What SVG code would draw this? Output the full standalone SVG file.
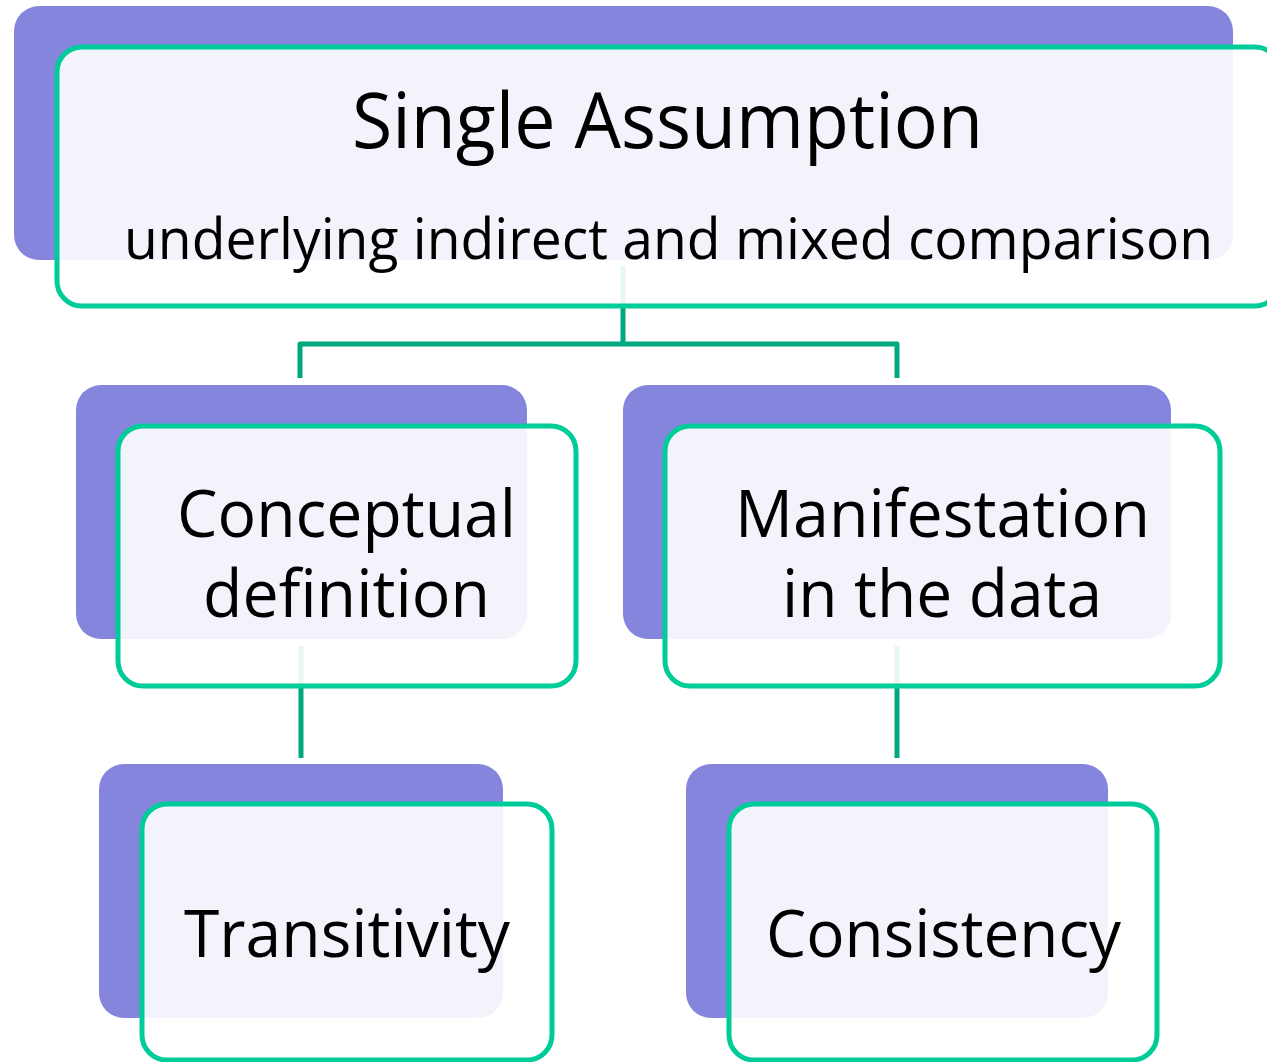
<svg xmlns="http://www.w3.org/2000/svg" width="1267" height="1062" viewBox="0 0 1267 1062">
<style>
.back{fill:#8585DD}
.front{fill:#FFFFFF;fill-opacity:0.9;stroke:#00CC99;stroke-width:5}
.conn{fill:none;stroke:#00A880;stroke-width:5;stroke-linejoin:round}
.t{font-family:"Open Sans","Noto Sans","Liberation Sans",sans-serif;fill:#000;text-anchor:middle}
.big{font-size:77px}
.sub{font-size:57px}
.mid{font-size:66px}
</style>
<rect width="1267" height="1062" fill="#FFFFFF"/>
<g id="backs">
<rect class="back" x="14" y="6" width="1219" height="254" rx="25"/>
<rect class="back" x="76" y="385" width="451" height="254" rx="25"/>
<rect class="back" x="623" y="385" width="548" height="254" rx="25"/>
<rect class="back" x="99" y="764" width="404" height="254" rx="25"/>
<rect class="back" x="686" y="764" width="422" height="254" rx="25"/>
</g>
<g id="connectors">
<path class="conn" d="M623,266 V344 H300 V378"/>
<path class="conn" d="M623,344 H897 V378"/>
<path class="conn" d="M301,646 V758"/>
<path class="conn" d="M897,646 V758"/>
</g>
<g id="node-single-assumption">
<rect class="front" x="57" y="47" width="1223" height="259" rx="25"/>
<text class="t big" x="667.5" y="148" textLength="631" lengthAdjust="spacingAndGlyphs">Single Assumption</text>
<text class="t sub" x="668.5" y="259" textLength="1089" lengthAdjust="spacingAndGlyphs">underlying indirect and mixed comparison</text>
</g>
<g id="node-conceptual">
<rect class="front" x="118" y="426" width="458" height="260" rx="25"/>
<text class="t mid"><tspan x="346.5" y="537" textLength="339" lengthAdjust="spacingAndGlyphs">Conceptual</tspan><tspan x="346.5" y="617" textLength="287" lengthAdjust="spacingAndGlyphs">definition</tspan></text>
</g>
<g id="node-manifestation">
<rect class="front" x="665" y="426" width="555" height="260" rx="25"/>
<text class="t mid"><tspan x="942.5" y="537" textLength="415" lengthAdjust="spacingAndGlyphs">Manifestation</tspan><tspan x="942" y="617" textLength="320" lengthAdjust="spacingAndGlyphs">in the data</tspan></text>
</g>
<g id="node-transitivity">
<rect class="front" x="142" y="804" width="410" height="256" rx="25"/>
<text class="t mid" x="347" y="957" textLength="326" lengthAdjust="spacingAndGlyphs">Transitivity</text>
</g>
<g id="node-consistency">
<rect class="front" x="729" y="804" width="428" height="256" rx="25"/>
<text class="t mid" x="943.5" y="957" textLength="355" lengthAdjust="spacingAndGlyphs">Consistency</text>
</g>
</svg>
